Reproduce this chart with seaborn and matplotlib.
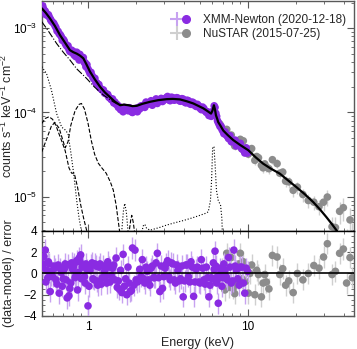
import numpy as np
import pandas as pd
import matplotlib
matplotlib.use("Agg")
import matplotlib.pyplot as plt
from matplotlib.lines import Line2D
from matplotlib.legend_handler import HandlerTuple
from matplotlib.ticker import FixedLocator, MultipleLocator, NullFormatter
import seaborn as sns

# %% data (XMM in two interleaved blocks)
xmm_e_a = [0.52, 0.53, 0.54, 0.55, 0.56, 0.57, 0.58, 0.59, 0.60, 0.62, 0.63, 0.65, 0.66, 0.68,
           0.70, 0.72, 0.74, 0.76, 0.78, 0.80, 0.82, 0.84, 0.86, 0.88, 0.90, 0.92, 0.95, 0.97,
           1.00, 1.03, 1.06, 1.09, 1.12, 1.15, 1.19, 1.23, 1.27, 1.31, 1.35, 1.40, 1.45, 1.50,
           1.55, 1.60, 1.66, 1.72, 1.78, 1.84, 1.90, 1.97, 2.04, 2.11, 2.19, 2.27, 2.35, 2.44,
           2.53, 2.62, 2.72, 2.82, 2.93, 3.04, 3.15, 3.27, 3.40, 3.53, 3.66, 3.80, 3.95, 4.10,
           4.26, 4.42, 4.59, 4.76, 4.94, 5.13, 5.32, 5.52, 5.72, 5.92, 6.10, 6.25, 6.40, 6.55,
           6.72, 6.90, 7.10, 7.35, 7.60, 7.90, 8.20, 8.50, 8.85, 9.20, 9.60, 10.0]
xmm_flux_a = [1.85e-3, 1.65e-3, 1.60e-3, 1.50e-3, 1.42e-3, 1.38e-3, 1.30e-3, 1.22e-3, 1.18e-3,
              1.08e-3, 1.02e-3, 9.2e-4, 8.6e-4, 8.0e-4, 7.4e-4, 6.6e-4, 6.1e-4, 5.6e-4, 5.3e-4,
              5.1e-4, 4.8e-4, 4.6e-4, 4.7e-4, 4.2e-4, 4.4e-4, 4.3e-4, 3.9e-4, 3.5e-4, 3.3e-4,
              2.9e-4, 2.75e-4, 2.5e-4, 2.25e-4, 2.15e-4, 1.95e-4, 1.85e-4, 1.7e-4, 1.65e-4,
              1.52e-4, 1.42e-4, 1.30e-4, 1.25e-4, 1.15e-4, 1.08e-4, 1.02e-4, 1.10e-4, 1.05e-4,
              1.12e-4, 1.00e-4, 1.05e-4, 1.02e-4, 1.10e-4, 1.18e-4, 1.15e-4, 1.25e-4, 1.30e-4,
              1.22e-4, 1.35e-4, 1.28e-4, 1.40e-4, 1.35e-4, 1.45e-4, 1.55e-4, 1.38e-4, 1.50e-4,
              1.42e-4, 1.48e-4, 1.36e-4, 1.44e-4, 1.30e-4, 1.38e-4, 1.25e-4, 1.30e-4, 1.18e-4,
              1.20e-4, 1.08e-4, 1.12e-4, 1.00e-4, 9.2e-5, 9.0e-5, 1.05e-4, 1.15e-4, 9.0e-5,
              7.6e-5, 6.8e-5, 6.3e-5, 5.6e-5, 5.4e-5, 4.9e-5, 4.5e-5, 4.6e-5, 4.0e-5, 4.1e-5,
              3.7e-5, 3.3e-5, 3.3e-5]
xmm_resid_a = [0.6, 1.6, 2.2, 0.3, -0.4, 0.9, -1.7, 0.2, -0.3, 0.5, -0.6, 0.8, -1.85, 0.1,
               -0.5, 0.9, -2.3, -2.1, -0.9, 0.4, 0.9, -0.2, -1.55, 1.45, 1.75, 0.6, -0.3, 0.9,
               -3.05, 0.3, 1.0, -0.6, 0.7, -1.1, 0.9, -0.4, 0.2, -0.9, 0.6, -0.2, 0.8, 1.45,
               -0.7, 0.3, 1.8, -0.5, 0.6, -1.7, 2.4, 2.2, -0.8, 0.4, 1.3, -0.9, 0.2, -1.1,
               0.7, -0.4, 1.9, -1.7, -1.4, 0.5, 1.2, -0.6, 0.9, -0.9, 0.3, -0.5, -2.2, 0.8,
               -0.3, 1.1, -2.15, 0.4, -0.8, 1.3, -0.6, 0.6, -2.2, -0.4, 1.0, 2.1, -0.9, -2.8,
               0.5, -1.2, 0.9, -0.3, 1.5, -0.9, 2.2, 0.3, -1.1, 0.6, -1.85, 0.2]

xmm_e_b = [0.525, 0.545, 0.565, 0.585, 0.61, 0.64, 0.67, 0.69, 0.71, 0.73, 0.75, 0.77, 0.79,
           0.81, 0.83, 0.85, 0.87, 0.89, 0.91, 0.935, 0.96, 0.985, 1.015, 1.045, 1.075, 1.105,
           1.135, 1.17, 1.21, 1.25, 1.29, 1.33, 1.375, 1.425, 1.475, 1.525, 1.575, 1.63, 1.69,
           1.75, 1.81, 1.87, 1.935, 2.0, 2.075, 2.15, 2.23, 2.31, 2.395, 2.485, 2.575, 2.67,
           2.77, 2.875, 2.985, 3.095, 3.21, 3.335, 3.465, 3.595, 3.73, 3.875, 4.025, 4.18,
           4.34, 4.505, 4.675, 4.85, 5.035, 5.225, 5.42, 5.62, 5.82, 6.0, 6.175, 6.325, 6.475,
           6.635, 6.81, 7.0, 7.22, 7.47, 7.75, 8.05, 8.35, 8.67, 9.0, 9.4, 9.8]
xmm_flux_b = [1.72e-3, 1.45e-3, 1.45e-3, 1.25e-3, 1.15e-3, 9.3e-4, 8.4e-4, 7.2e-4, 7.1e-4,
              6.3e-4, 6.2e-4, 5.3e-4, 5.5e-4, 5.3e-4, 5.0e-4, 5.2e-4, 4.9e-4, 4.9e-4, 4.5e-4,
              4.5e-4, 3.9e-4, 3.7e-4, 3.1e-4, 3.0e-4, 2.6e-4, 2.55e-4, 2.25e-4, 2.15e-4,
              1.9e-4, 1.85e-4, 1.68e-4, 1.64e-4, 1.48e-4, 1.45e-4, 1.33e-4, 1.24e-4, 1.17e-4,
              1.12e-4, 1.15e-4, 1.08e-4, 1.14e-4, 1.02e-4, 1.07e-4, 1.12e-4, 1.15e-4, 1.2e-4,
              1.22e-4, 1.33e-4, 1.27e-4, 1.38e-4, 1.32e-4, 1.45e-4, 1.36e-4, 1.47e-4, 1.40e-4,
              1.50e-4, 1.41e-4, 1.52e-4, 1.40e-4, 1.50e-4, 1.38e-4, 1.46e-4, 1.33e-4, 1.40e-4,
              1.27e-4, 1.33e-4, 1.21e-4, 1.25e-4, 1.12e-4, 1.16e-4, 1.04e-4, 1.02e-4, 9.4e-5,
              1.0e-4, 1.2e-4, 9.8e-5, 8.0e-5, 7.2e-5, 6.9e-5, 6.0e-5, 5.9e-5, 5.2e-5, 5.3e-5,
              4.5e-5, 4.7e-5, 4.1e-5, 4.3e-5, 3.6e-5, 3.8e-5]
xmm_resid_b = [0.9, -0.8, 1.1, -0.2, 0.7, -1.0, 0.5, -1.2, 0.4, -0.6, 0.8, -1.4, 1.0, 0.6,
               -0.4, 1.2, 0.1, 1.1, -0.5, 0.7, -0.9, 0.4, -1.2, 0.8, -0.5, 0.9, -0.7, 0.6,
               -1.0, 0.7, -0.3, 1.1, -0.8, 0.5, -0.6, -1.3, -1.5, -1.8, -1.2, -2.0, -0.9, -1.6,
               -1.1, -0.6, -0.7, -0.3, -0.5, 0.6, -0.6, 0.5, -0.4, 1.0, -0.4, 0.7, -0.3, 0.9,
               -0.3, 1.0, -0.6, 0.8, -0.7, 0.7, -0.7, 0.8, -0.8, 0.6, -0.8, 0.6, -0.9, 0.5,
               -1.0, -0.4, -1.1, -0.5, 0.4, 0.7, -0.3, -0.4, 0.2, -0.4, 0.3, -0.6, 0.6, -0.7,
               0.7, -0.5, 0.6, -0.9, 0.5]

nustar_e = [6.7, 6.9, 7.2, 7.4, 7.6, 7.9, 8.1, 8.3, 8.5, 8.8, 9.0, 9.2, 9.4, 9.7, 10.1, 10.3,
            10.6, 11.1, 11.4, 11.7, 12.2, 12.5, 12.8, 13.1, 13.6, 14.3, 15.3, 15.9, 16.6,
            17.3, 18.1, 19.3, 20.5, 22.2, 24.0, 26.0, 28.0, 29.9, 31.6, 33.8, 35.5, 37.7,
            39.8, 41.7, 43.8, 45.3]
nustar_flux = [7.3e-5, 6.6e-5, 5.9e-5, 6.3e-5, 5.0e-5, 5.4e-5, 4.4e-5, 4.0e-5, 4.3e-5, 4.4e-5,
               4.8e-5, 3.7e-5, 4.6e-5, 3.8e-5, 3.2e-5, 3.5e-5, 3.73e-5, 2.70e-5, 3.0e-5,
               2.9e-5, 2.36e-5, 2.2e-5, 2.45e-5, 2.25e-5, 2.15e-5, 2.75e-5, 2.47e-5, 1.9e-5,
               1.96e-5, 1.53e-5, 1.5e-5, 1.19e-5, 1.3e-5, 1.06e-5, 9.0e-6, 8.6e-6, 7.6e-6,
               8.6e-6, 9.9e-6, 4.4e-6, 4.3e-6, 6.7e-6, 7.4e-6, 2.6e-6, 5.3e-6, 3.2e-6]
nustar_err = [5e-6, 5e-6, 5e-6, 5e-6, 4.5e-6, 4.5e-6, 4e-6, 4e-6, 4e-6, 4e-6, 4.5e-6, 3.8e-6,
              4.5e-6, 3.5e-6, 3.5e-6, 3.5e-6, 4e-6, 3e-6, 3e-6, 3e-6, 2.8e-6, 2.7e-6, 3e-6,
              2.8e-6, 2.7e-6, 3.3e-6, 3e-6, 2.5e-6, 2.6e-6, 2.2e-6, 2.2e-6, 1.9e-6, 2.1e-6,
              1.9e-6, 1.7e-6, 1.7e-6, 1.6e-6, 1.9e-6, 2.2e-6, 1.4e-6, 1.5e-6, 2e-6, 2.2e-6,
              1.5e-6, 2e-6, 1.7e-6]
nustar_resid = [-0.45, 0.5, -1.55, 1.9, -1.3, 1.5, -1.4, -1.9, -0.9, 0.9, 1.9, -0.5, 1.1,
                -0.75, -1.85, 0.0, 0.8, -2.0, 0.3, -0.1, -2.2, -0.9, -0.1, -0.8, -1.45, 1.7,
                1.55, -0.1, 0.45, -1.1, -0.7, -1.8, 0.0, -0.6, 0.0, 0.75, 0.5, 1.55, 2.8,
                -0.1, 0.2, 1.9, 2.3, -0.9, 1.5, -0.4]

# total model
model_e = [0.513, 0.545, 0.578, 0.62, 0.668, 0.72, 0.771, 0.81, 0.85, 0.89, 0.935, 0.98, 1.03,
           1.10, 1.19, 1.28, 1.37, 1.47, 1.59, 1.68, 1.79, 1.90, 2.02, 2.20, 2.45, 2.75, 3.11,
           3.40, 3.77, 4.15, 4.57, 4.90, 5.28, 5.60, 5.90, 6.02, 6.15, 6.25, 6.33, 6.45, 6.54,
           6.75, 7.04, 7.50, 8.13, 9.0, 10.1, 11.2, 12.5, 14.0, 15.9, 18.0, 20.2, 22.8, 25.8,
           28.5, 31.2, 33.5, 36.0, 38.0]
model_f = [1.73e-3, 1.52e-3, 1.31e-3, 1.07e-3, 8.3e-4, 6.7e-4, 5.5e-4, 5.2e-4, 5.0e-4, 4.75e-4,
           4.4e-4, 3.7e-4, 3.05e-4, 2.5e-4, 2.02e-4, 1.72e-4, 1.53e-4, 1.35e-4, 1.22e-4,
           1.24e-4, 1.22e-4, 1.19e-4, 1.20e-4, 1.27e-4, 1.34e-4, 1.40e-4, 1.44e-4, 1.45e-4,
           1.43e-4, 1.36e-4, 1.28e-4, 1.20e-4, 1.12e-4, 1.04e-4, 9.7e-5, 1.05e-4, 1.22e-4,
           1.08e-4, 9.3e-5, 8.4e-5, 7.7e-5, 7.0e-5, 6.1e-5, 5.4e-5, 4.7e-5, 4.1e-5, 3.56e-5,
           2.95e-5, 2.47e-5, 2.15e-5, 1.88e-5, 1.55e-5, 1.30e-5, 1.07e-5, 8.6e-6, 7.0e-6,
           5.7e-6, 4.8e-6, 4.0e-6, 3.4e-6]

# model components
cont_e = [0.513, 0.56, 0.60, 0.636, 0.70, 0.771, 0.85, 0.98, 1.1, 1.25, 1.44, 1.55]
cont_f = [1.2e-3, 9.5e-4, 7.8e-4, 6.6e-4, 5.2e-4, 4.2e-4, 3.3e-4, 2.54e-4, 2.0e-4, 1.61e-4,
          1.34e-4, 1.24e-4]
soft_e = [0.513, 0.55, 0.59, 0.636, 0.684, 0.72, 0.75, 0.78, 0.81, 0.85, 0.88, 0.92]
soft_f = [3.5e-4, 2.9e-4, 1.85e-4, 9.7e-5, 6.7e-5, 6.2e-5, 5.6e-5, 3.4e-5, 2.0e-5, 9e-6,
          5.5e-6, 3.5e-6]
lineA_e = [0.513, 0.54, 0.57, 0.60, 0.63, 0.66, 0.69, 0.72, 0.76, 0.79, 0.82, 0.86, 0.90,
           0.94, 0.98, 1.0]
lineA_f = [7.4e-5, 8.5e-5, 8.9e-5, 8.3e-5, 7.0e-5, 5.5e-5, 4.4e-5, 3.5e-5, 2.2e-5, 1.9e-5,
           1.9e-5, 1.3e-5, 8e-6, 5.5e-6, 4e-6, 3.5e-6]
lineB_e = [0.513, 0.55, 0.59, 0.62, 0.66, 0.70, 0.72, 0.75, 0.78, 0.83, 0.88, 0.91, 0.95, 1.0,
           1.05, 1.1, 1.16, 1.22, 1.3, 1.38, 1.44, 1.5, 1.55, 1.58]
lineB_f = [3.4e-5, 4.8e-5, 6.9e-5, 7.6e-5, 6.5e-5, 4.5e-5, 3.8e-5, 4.5e-5, 7.0e-5, 1.05e-4,
           1.25e-4, 1.28e-4, 1.1e-4, 7.5e-5, 4.6e-5, 3.2e-5, 2.5e-5, 2.2e-5, 1.9e-5, 1.5e-5,
           1.2e-5, 8e-6, 5e-6, 3.8e-6]
lineC_e = [1.80, 1.85, 1.88, 1.92, 1.97]
lineC_f = [3.5e-6, 5.2e-6, 6.0e-6, 5.0e-6, 3.5e-6]
refl_e = [1.62, 1.67, 1.70, 1.74, 1.79, 2.15, 2.22, 2.27, 2.33, 2.45, 2.8, 3.11, 3.5, 3.95,
          4.5, 5.02, 5.4, 5.67, 5.85, 5.95, 6.04, 6.15, 6.25, 6.38, 6.55, 6.77, 6.9, 6.97]
refl_f = [3.5e-6, 7e-6, 8.3e-6, 6.5e-6, 3.5e-6, 3.5e-6, 4.5e-6, 4.7e-6, 4.2e-6, 4.0e-6,
          4.3e-6, 4.6e-6, 4.9e-6, 5.2e-6, 5.6e-6, 6.0e-6, 6.3e-6, 6.6e-6, 9e-6, 1.6e-5,
          3.9e-5, 3.9e-5, 2.5e-5, 1.19e-5, 9.0e-6, 7.9e-6, 5.5e-6, 3.0e-6]

xmm_e = xmm_e_a + xmm_e_b
xmm_flux = xmm_flux_a + xmm_flux_b
xmm_resid = xmm_resid_a + xmm_resid_b

xmm_color = "#8a2be2"
xmm_ecolor = "#c7a2f0"
nu_color = "#8c8c8c"
nu_ecolor = "#cfcfcf"
msize = 30

# %% style
sns.set_theme(style="ticks")
plt.rcParams["font.family"] = ["Liberation Sans", "DejaVu Sans"]
plt.rcParams["mathtext.fontset"] = "custom"
plt.rcParams["mathtext.rm"] = "Liberation Sans"
plt.rcParams["mathtext.it"] = "Liberation Sans:italic"
plt.rcParams["mathtext.default"] = "regular"

fig = plt.figure(figsize=(3.57, 3.49), dpi=100)
ax = fig.add_axes([0.1176, 0.3381, 0.874, 0.659])
axr = fig.add_axes([0.1176, 0.0946, 0.874, 0.2436], sharex=ax)

# %% top panel
ax.errorbar(nustar_e, nustar_flux, yerr=nustar_err, fmt="none", ecolor=nu_ecolor,
            elinewidth=1.0, zorder=1)
sns.scatterplot(x=nustar_e, y=nustar_flux, ax=ax, color=nu_color, s=msize, edgecolor="none",
                zorder=2)
sns.scatterplot(x=xmm_e, y=xmm_flux, ax=ax, color=xmm_color, s=msize, edgecolor="none",
                zorder=3)

comps = [
    (cont_e, cont_f, "-."),
    (soft_e, soft_f, ":"),
    (lineA_e, lineA_f, "--"),
    (lineB_e, lineB_f, "--"),
    (lineC_e, lineC_f, "--"),
    (refl_e, refl_f, ":"),
]
for e, f, ls in comps:
    sns.lineplot(x=e, y=f, ax=ax, color="black", lw=0.8, linestyle=ls, sort=False,
                 estimator=None, zorder=4)
sns.lineplot(x=model_e, y=model_f, ax=ax, color="black", lw=1.6, sort=False,
             estimator=None, zorder=5)

ax.set_xscale("log")
ax.set_yscale("log")
ax.set_xlim(0.515, 46.4)
ax.set_ylim(3.91e-6, 2.11e-3)
ax.set_ylabel("counts s$^{-1}$ keV$^{-1}$ cm$^{-2}$", fontsize=9)
ax.yaxis.set_label_coords(-0.088, 0.5)
ax.tick_params(labelbottom=False)

h_xmm = (Line2D([], [], marker="+", ms=10, mew=1.5, color=xmm_ecolor, ls="none"),
         Line2D([], [], marker="o", ms=5.5, color=xmm_color, ls="none"))
h_nu = (Line2D([], [], marker="+", ms=10, mew=1.5, color=nu_ecolor, ls="none"),
        Line2D([], [], marker="o", ms=5.5, color=nu_color, ls="none"))
ax.legend([h_xmm, h_nu], ["XMM-Newton (2020-12-18)", "NuSTAR (2015-07-25)"],
          handler_map={tuple: HandlerTuple(ndivide=None)}, frameon=False, fontsize=8.5,
          loc="upper right", bbox_to_anchor=(1.0, 0.98), handlelength=1.2,
          handletextpad=1.2, labelspacing=0.2, borderaxespad=0.3)

# %% residual panel
axr.errorbar(nustar_e, nustar_resid, yerr=1, fmt="none", ecolor=nu_ecolor, elinewidth=1.0,
             zorder=1)
sns.scatterplot(x=nustar_e, y=nustar_resid, ax=axr, color=nu_color, s=msize,
                edgecolor="none", zorder=2)
axr.errorbar(xmm_e, xmm_resid, yerr=1, fmt="none", ecolor=xmm_ecolor, elinewidth=1.0,
             zorder=3)
sns.scatterplot(x=xmm_e, y=xmm_resid, ax=axr, color=xmm_color, s=msize, edgecolor="none",
                zorder=4)
axr.axhline(0, color="black", lw=1.2, zorder=5)
axr.set_ylim(-4, 4)
axr.yaxis.set_major_locator(FixedLocator([-4, -2, 0, 2, 4]))
axr.yaxis.set_minor_locator(MultipleLocator(0.5))
axr.set_xticks([1, 10])
axr.set_xticklabels(["1", "10"])
axr.xaxis.set_minor_formatter(NullFormatter())
axr.set_xlabel("Energy (keV)", fontsize=9, labelpad=3)
axr.set_ylabel("(data-model) / error", fontsize=9)
axr.yaxis.set_label_coords(-0.088, 0.5)

for a in (ax, axr):
    a.tick_params(which="both", direction="in", top=True, right=True, colors="0.35",
                  labelcolor="black", labelsize=8.5)
    a.tick_params(which="major", length=5, width=0.8)
    a.tick_params(which="minor", length=2.5, width=0.6)
    for s in a.spines.values():
        s.set_color("0.35")
        s.set_linewidth(1.0)
ax.spines["bottom"].set_color("black")
axr.spines["top"].set_color("black")

fig.savefig("out.png", dpi=100)
